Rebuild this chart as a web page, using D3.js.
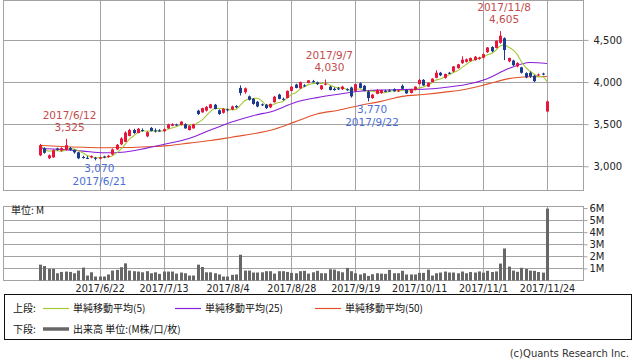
<!DOCTYPE html>
<html>
<head>
<meta charset="utf-8">
<script src="https://cdn.jsdelivr.net/npm/d3@7"></script>
<style>
  body { margin: 0; background: #fff; }
  svg { display: block; font-family: "DejaVu Sans", sans-serif; }
  .jp { font-family: "Noto Sans CJK JP", "DejaVu Sans", sans-serif; }
</style>
</head>
<body>
<script>
// trading days shown
const dates = [
  "2017/6/2","2017/6/5","2017/6/6","2017/6/7","2017/6/8","2017/6/9","2017/6/12","2017/6/13","2017/6/14","2017/6/15",
  "2017/6/16","2017/6/19","2017/6/20","2017/6/21","2017/6/22","2017/6/23","2017/6/26","2017/6/27","2017/6/28","2017/6/29",
  "2017/6/30","2017/7/3","2017/7/4","2017/7/5","2017/7/6","2017/7/7","2017/7/10","2017/7/11","2017/7/12","2017/7/13",
  "2017/7/14","2017/7/18","2017/7/19","2017/7/20","2017/7/21","2017/7/24","2017/7/25","2017/7/26","2017/7/27","2017/7/28",
  "2017/7/31","2017/8/1","2017/8/2","2017/8/3","2017/8/4","2017/8/7","2017/8/8","2017/8/9","2017/8/10","2017/8/14",
  "2017/8/15","2017/8/16","2017/8/17","2017/8/18","2017/8/21","2017/8/22","2017/8/23","2017/8/24","2017/8/25","2017/8/28",
  "2017/8/29","2017/8/30","2017/8/31","2017/9/1","2017/9/4","2017/9/5","2017/9/6","2017/9/7","2017/9/8","2017/9/11",
  "2017/9/12","2017/9/13","2017/9/14","2017/9/15","2017/9/19","2017/9/20","2017/9/21","2017/9/22","2017/9/25","2017/9/26",
  "2017/9/27","2017/9/28","2017/9/29","2017/10/2","2017/10/3","2017/10/4","2017/10/5","2017/10/6","2017/10/10","2017/10/11",
  "2017/10/12","2017/10/13","2017/10/16","2017/10/17","2017/10/18","2017/10/19","2017/10/20","2017/10/23","2017/10/24","2017/10/25",
  "2017/10/26","2017/10/27","2017/10/30","2017/10/31","2017/11/1","2017/11/2","2017/11/6","2017/11/7","2017/11/8","2017/11/9",
  "2017/11/10","2017/11/13","2017/11/14","2017/11/15","2017/11/16","2017/11/17","2017/11/20","2017/11/21","2017/11/22","2017/11/24"
];

const opens = [
  3130,3215,3095,3105,3210,3185,3195,3215,3195,3165, 3110,3100,3105,3100,3090,3115,3110,3140,3200,3260,
  3290,3360,3430,3395,3430,3355,3455,3425,3425,3415, 3450,3480,3495,3490,3500,3430,3450,3660,3640,3660,
  3690,3730,3665,3635,3675,3675,3715,3930,3880,3830, 3800,3765,3735,3730,3700,3760,3850,3800,3810,3895,
  3970,3925,3960,3990,4010,3995,3915,3975,3945,3920, 3925,3915,3915,3935,3895,3985,3955,3885,3810,3860,
  3870,3895,3900,3915,3890,3955,3905,3870,3905,3975, 4025,3945,4000,4050,4110,4050,4110,4125,4165,4225,
  4240,4250,4260,4275,4290,4355,4415,4405,4465,4520, 4245,4255,4185,4175,4105,4110,4075,4085,4100,3650
];
const highs = [
  3265,3225,3140,3200,3220,3225,3325,3230,3200,3170, 3125,3120,3130,3110,3115,3125,3135,3210,3265,3345,
  3415,3445,3445,3455,3450,3415,3465,3450,3440,3450, 3505,3510,3505,3535,3510,3485,3505,3670,3695,3715,
  3740,3740,3675,3690,3685,3720,3725,3960,3935,3840, 3810,3775,3745,3740,3745,3835,3860,3815,3900,3950,
  3980,4005,3975,4020,4025,4005,3965,4030,3955,3935, 3940,3955,3925,3945,3980,3995,3965,3895,3860,3915,
  3910,3910,3915,3925,3910,3970,3915,3920,3950,4035, 4035,3995,4045,4140,4120,4100,4120,4190,4215,4305,
  4280,4290,4310,4300,4340,4415,4425,4495,4605,4530, 4290,4265,4235,4180,4115,4125,4085,4100,4110,3780
];
const lows = [
  3120,3150,3085,3100,3185,3175,3185,3185,3150,3085, 3090,3085,3095,3070,3085,3095,3100,3130,3195,3250,
  3285,3355,3385,3390,3410,3345,3415,3400,3410,3410, 3445,3475,3480,3485,3445,3425,3445,3610,3635,3650,
  3685,3675,3610,3625,3650,3665,3690,3840,3860,3780, 3730,3700,3715,3680,3690,3755,3795,3780,3805,3890,
  3925,3920,3940,3985,3995,3965,3905,3960,3900,3895, 3905,3905,3895,3815,3890,3925,3890,3770,3800,3855,
  3860,3880,3885,3885,3880,3915,3860,3865,3900,3970, 3955,3940,3995,4045,4070,4040,4095,4115,4160,4215,
  4230,4240,4255,4265,4280,4345,4355,4400,4455,4260, 4235,4190,4175,4100,4045,4050,4000,4070,4080,3640
];
const closes = [
  3250,3160,3130,3190,3195,3215,3250,3195,3165,3095, 3100,3095,3120,3090,3105,3105,3125,3200,3255,3330,
  3400,3430,3395,3445,3420,3405,3420,3420,3420,3440, 3495,3500,3485,3530,3450,3480,3500,3620,3690,3705,
  3735,3680,3620,3680,3665,3710,3700,3870,3925,3790, 3740,3710,3725,3690,3740,3825,3800,3795,3895,3945,
  3930,4000,3950,4020,4005,3975,3960,3980,3905,3905, 3915,3945,3905,3830,3975,3930,3895,3810,3850,3905,
  3905,3890,3895,3890,3900,3920,3865,3910,3945,4025, 3960,3990,4040,4110,4080,4095,4100,4185,4210,4265,
  4270,4285,4300,4290,4330,4410,4365,4490,4550,4380, 4285,4200,4225,4110,4055,4065,4010,4090,4090,3770
];
// volume, millions
const volumes = [
  1.31,1.2,0.96,0.96,0.6,0.71,0.74,0.71,0.6,0.82, 1.07,0.41,0.68,0.33,0.33,0.33,0.5,0.82,0.88,1.1,
  1.42,0.82,0.77,0.74,0.68,0.77,0.6,0.68,0.55,0.74, 0.74,0.74,0.57,0.66,0.6,0.41,0.41,1.31,1.12,0.68,
  0.68,0.6,0.5,0.33,0.33,0.47,0.5,2.13,0.82,0.82, 0.66,0.66,0.68,0.77,0.77,0.57,0.77,0.77,0.71,0.63,
  0.6,0.77,0.8,0.57,0.68,0.8,0.6,0.6,0.93,0.9, 0.77,0.68,1.04,0.77,0.6,0.5,0.6,0.38,0.52,0.6,
  0.57,0.55,0.88,0.6,0.6,0.8,0.5,0.5,0.5,0.63, 0.63,0.9,0.41,0.6,0.66,0.74,0.66,0.66,0.6,0.74,
  0.6,0.7,0.66,0.75,0.65,0.8,0.7,0.75,1.4,2.65, 1.15,0.82,0.72,1.05,0.95,0.82,0.8,0.7,0.65,5.95
];

// moving averages at every 5th session
const maDates = ["2017/6/2","2017/6/9","2017/6/16","2017/6/23","2017/6/30","2017/7/7","2017/7/14","2017/7/24","2017/7/31",
  "2017/8/7","2017/8/15","2017/8/22","2017/8/29","2017/9/5","2017/9/12","2017/9/20","2017/9/27","2017/10/4","2017/10/12",
  "2017/10/19","2017/10/26","2017/11/2","2017/11/10","2017/11/17","2017/11/24"];
const ma25 = [3210,3200,3180,3160,3170,3215,3270,3330,3430,3525,3600,3660,3760,3815,3855,3890,3905,3912,3915,3935,3970,4040,4160,4232,4220];
const ma50 = [3250,3235,3225,3220,3222,3232,3245,3275,3305,3345,3385,3440,3530,3620,3665,3722,3770,3830,3852,3880,3915,3975,4040,4062,4066];

const priceTicks = [3000, 3500, 4000, 4500];
const volTicks = [1, 2, 3, 4, 5, 6];
const gridDates = ["2017/6/22","2017/7/13","2017/8/4","2017/8/28","2017/9/19","2017/10/11","2017/11/1","2017/11/24"];

const annoDates = ["2017/6/12","2017/6/21","2017/9/7","2017/9/22","2017/11/8"];
const annoValues = [3325, 3070, 4030, 3770, 4605];
const annoKinds = ["high","low","high","low","high"];

const legendNames = ["単純移動平均(5)", "単純移動平均(25)", "単純移動平均(50)"];

// ---------------------------------------------
const upColor = "#e8153c", downColor = "#1c3a8e", gridColor = "#a3a3a3";
const maColors = ["#a5c837", "#8a1fd8", "#e2522a"];

const svg = d3.select("body").append("svg").attr("width", 638).attr("height", 362);

const left = 3.5, right = 583.5, pTop = 0.5, pBot = 190.5, vTop = 206.5, vBot = 280.5;

const x = d3.scalePoint().domain(dates).range([40, 547]);
const y = d3.scaleLinear().domain([2712, 4968]).range([pBot, pTop]);
const vy = d3.scaleLinear().domain([0, 6]).range([vBot, 208]);
const px = d => Math.round(x(d)) + 0.5;

// grid, price panel
let g = svg.append("g").attr("stroke", gridColor).attr("fill", "none");
g.append("rect").attr("x", left).attr("y", pTop).attr("width", right - left).attr("height", pBot - pTop);
g.selectAll(".hp").data(priceTicks).enter().append("line")
  .attr("x1", left).attr("x2", right)
  .attr("y1", d => Math.round(y(d)) + 0.5).attr("y2", d => Math.round(y(d)) + 0.5);
g.selectAll(".vp").data(gridDates).enter().append("line")
  .attr("x1", px).attr("x2", px).attr("y1", pTop).attr("y2", pBot);

// grid, volume panel
g.append("rect").attr("x", left).attr("y", vTop).attr("width", right - left).attr("height", vBot - vTop);
g.selectAll(".hv").data(volTicks.slice(0, 5)).enter().append("line")
  .attr("x1", left).attr("x2", right)
  .attr("y1", d => Math.round(vy(d)) + 0.5).attr("y2", d => Math.round(vy(d)) + 0.5);
g.selectAll(".vv").data(gridDates).enter().append("line")
  .attr("x1", px).attr("x2", px).attr("y1", vTop).attr("y2", vBot);

// axes
let ay = svg.append("g").attr("transform", `translate(${right},0)`)
  .call(d3.axisRight(y).tickValues(priceTicks).tickFormat(d3.format(",")).tickSize(5).tickPadding(5));
let av = svg.append("g").attr("transform", `translate(${right},0)`)
  .call(d3.axisRight(vy).tickValues(volTicks).tickFormat(d => d + "M").tickSize(4).tickPadding(2));
let ax = svg.append("g").attr("transform", `translate(0,${vBot})`)
  .call(d3.axisBottom(x).tickValues(gridDates).tickSize(0).tickPadding(5));
[ay, av, ax].forEach(a => {
  a.select(".domain").remove();
  a.selectAll("line").attr("stroke", gridColor);
  a.selectAll("text").attr("fill", "#222").style("font-size", "10px").style("font-family", "DejaVu Sans");
});
ax.selectAll("text").style("font-size", "9.6px");

// moving averages
const closeSeries = dates.map((d, i) => ({d, v: d3.mean(closes.slice(Math.max(0, i - 4), i + 1))}));
const line = d3.line().x(p => x(p.d)).y(p => y(p.v)).curve(d3.curveMonotoneX);
const maSeries = [closeSeries,
  maDates.map((d, i) => ({d, v: ma25[i]})),
  maDates.map((d, i) => ({d, v: ma50[i]}))];
svg.selectAll(".ma").data([2, 1, 0]).enter().append("path")
  .attr("fill", "none").attr("stroke-width", 1.1)
  .attr("stroke", k => maColors[k])
  .attr("d", k => line(maSeries[k]));

// candles
const candles = dates.map((d, i) => ({d, o: opens[i], h: highs[i], l: lows[i], c: closes[i]}));
const cg = svg.append("g").selectAll("g").data(candles).enter().append("g")
  .attr("stroke", c => c.c >= c.o ? upColor : downColor)
  .attr("fill", c => c.c >= c.o ? upColor : downColor);
cg.append("line")
  .attr("x1", c => px(c.d)).attr("x2", c => px(c.d))
  .attr("y1", c => y(c.h)).attr("y2", c => y(c.l));
cg.append("rect").attr("stroke", "none")
  .attr("x", c => Math.round(x(c.d)) - 1).attr("width", 3)
  .attr("y", c => y(Math.max(c.o, c.c)))
  .attr("height", c => Math.max(1, Math.abs(y(c.o) - y(c.c))));

// volume bars
svg.append("g").selectAll("rect").data(volumes).enter().append("rect")
  .attr("fill", "#676767")
  .attr("x", (v, i) => Math.round(x(dates[i])) - 1).attr("width", 3)
  .attr("y", v => vy(v)).attr("height", v => vBot - vy(v));

svg.append("text").attr("class", "jp").attr("x", 11).attr("y", 214)
  .style("font-size", "10px").attr("fill", "#222").text("単位: M");

// high / low notes
annoDates.forEach((d, i) => {
  const hi = annoKinds[i] === "high";
  const cx = x(d) + 4, py = y(annoValues[i]);
  const t = svg.append("g").attr("text-anchor", "middle")
    .attr("fill", hi ? "#c44c4c" : "#4c6fd6").style("font-size", "10.5px");
  const dateText = d, valText = d3.format(",")(annoValues[i]);
  if (hi) {
    t.append("text").attr("x", cx).attr("y", py - 20).text(dateText);
    t.append("text").attr("x", cx).attr("y", py - 8).text(valText);
  } else {
    t.append("text").attr("x", cx).attr("y", py + 12).text(valText);
    t.append("text").attr("x", cx).attr("y", py + 25).text(dateText);
  }
});

// legend box
const lg = svg.append("g").attr("class", "jp").style("font-size", "10px").attr("fill", "#111");
lg.append("rect").attr("x", 4.5).attr("y", 294.5).attr("width", 627).attr("height", 45)
  .attr("fill", "none").attr("stroke", "#111");
lg.append("text").attr("x", 13).attr("y", 312).text("上段:");
const legX = [43, 175, 315];
legendNames.forEach((n, i) => {
  lg.append("line").attr("x1", legX[i]).attr("x2", legX[i] + 26).attr("y1", 308.5).attr("y2", 308.5)
    .attr("stroke", maColors[i]).attr("stroke-width", 1.2);
  lg.append("text").attr("x", legX[i] + 30).attr("y", 312).text(n);
});
lg.append("text").attr("x", 13).attr("y", 333).text("下段:");
lg.append("line").attr("x1", 43).attr("x2", 69).attr("y1", 329).attr("y2", 329)
  .attr("stroke", "#676767").attr("stroke-width", 3.5);
lg.append("text").attr("x", 73).attr("y", 333).text("出来高 単位:(M株/口/枚)");

svg.append("text").attr("x", 629).attr("y", 357).attr("text-anchor", "end")
  .style("font-size", "10px").attr("fill", "#333").text("(c)Quants Research Inc.");
</script>
</body>
</html>
